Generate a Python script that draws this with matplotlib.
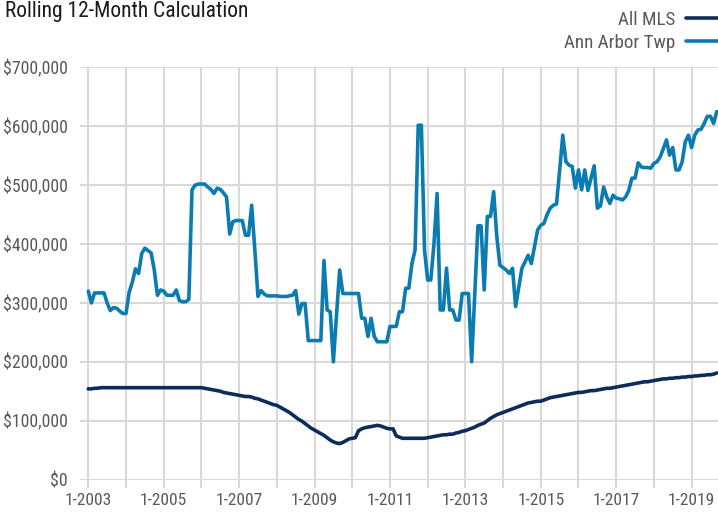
import matplotlib
matplotlib.use("Agg")
import matplotlib.pyplot as plt
from matplotlib import font_manager

# ---------------- data ----------------
start_year = 2003
tick_labels = ["1-2003", "", "1-2005", "", "1-2007", "", "1-2009", "", "1-2011", "",
               "1-2013", "", "1-2015", "", "1-2017", "", "1-2019"]
y_ticks = [0, 100000, 200000, 300000, 400000, 500000, 600000, 700000]
y_tick_labels = ["$0", "$100,000", "$200,000", "$300,000", "$400,000",
                 "$500,000", "$600,000", "$700,000"]
series_names = ["All MLS", "Ann Arbor Twp"]

# monthly values (thousands of dollars), Jan 2003 .. Sep 2019
ann_arbor_k = [
    320, 300, 317, 317, 317, 317, 300, 287, 292, 291, 286, 282,   # 2003
    282, 318, 335, 358, 350, 384, 393, 389, 385, 356, 313, 322,   # 2004
    320, 313, 313, 313, 322, 304, 302, 302, 306, 492, 500, 502,   # 2005
    502, 502, 497, 493, 486, 495, 493, 487, 480, 417, 438, 440,   # 2006
    440, 440, 415, 415, 466, 390, 311, 321, 315, 312, 312, 312,   # 2007
    312, 311, 311, 311, 312, 313, 321, 281, 299, 299, 236, 236,   # 2008
    236, 236, 236, 372, 288, 285, 200, 280, 356, 316, 316, 316,   # 2009
    316, 316, 316, 274, 274, 243, 274, 243, 234, 234, 234, 234,   # 2010
    260, 260, 260, 285, 285, 325, 325, 367, 390, 602, 602, 390,   # 2011
    339, 339, 400, 486, 288, 288, 359, 288, 288, 271, 271, 316,   # 2012
    316, 316, 200, 315, 431, 431, 322, 447, 447, 489, 413, 364,   # 2013
    360, 356, 350, 359, 294, 326, 359, 370, 381, 367, 395, 424,   # 2014
    432, 435, 450, 461, 466, 468, 525, 585, 540, 534, 532, 495,   # 2015
    526, 492, 526, 491, 512, 533, 461, 465, 497, 480, 469, 483,   # 2016
    478, 477, 475, 480, 491, 512, 512, 538, 531, 530, 530, 529,   # 2017
    537, 540, 548, 562, 577, 551, 564, 526, 526, 540, 574, 585,   # 2018
    564, 585, 594, 595, 605, 617, 617, 605, 625,                  # 2019
]
all_mls_k = [
    154, 154, 155, 155, 156, 156, 156, 156, 156, 156, 156, 156,   # 2003
    156, 156, 156, 156, 156, 156, 156, 156, 156, 156, 156, 156,   # 2004
    156, 156, 156, 156, 156, 156, 156, 156, 156, 156, 156, 156,   # 2005
    156, 155, 154, 153, 152, 151, 150, 148, 147, 146, 145, 144,   # 2006
    143, 142, 141, 141, 140, 138, 137, 135, 133, 131, 129, 127,   # 2007
    126, 123, 120, 117, 114, 110, 106, 102, 99, 95, 91, 87,       # 2008
    84, 81, 78, 75, 71, 67, 64, 62, 61, 63, 66, 69,               # 2009
    70, 71, 83, 86, 88, 89, 90, 91, 92, 91, 89, 87,               # 2010
    86, 86, 74, 72, 70, 70, 70, 70, 70, 70, 70, 70,               # 2011
    71, 72, 73, 74, 75, 76, 76, 77, 77, 79, 80, 82,               # 2012
    83, 85, 87, 89, 92, 94, 96, 100, 104, 107, 110, 112,          # 2013
    114, 116, 118, 120, 122, 124, 126, 128, 130, 131, 132, 133,   # 2014
    133, 135, 137, 139, 140, 141, 142, 143, 144, 145, 146, 147,   # 2015
    148, 148, 149, 150, 151, 151, 152, 153, 154, 155, 155, 156,   # 2016
    157, 158, 159, 160, 161, 162, 163, 164, 165, 166, 166, 167,   # 2017
    168, 169, 170, 171, 171, 172, 172, 173, 173, 174, 174, 175,   # 2018
    175, 176, 176, 177, 177, 178, 178, 179, 181,                  # 2019
]

ann_arbor = [v * 1000 for v in ann_arbor_k]
all_mls = [v * 1000 for v in all_mls_k]
months = list(range(len(ann_arbor)))

# ---------------- style ----------------
avail = {f.name for f in font_manager.fontManager.ttflist}
fam = [f for f in ["Roboto Condensed", "Liberation Sans Narrow", "DejaVu Sans"] if f in avail]
plt.rcParams["font.family"] = fam
plt.rcParams["font.stretch"] = "condensed"

c_mls = "#0c2d5c"
c_aa = "#0a7cb2"
grid_c = "#d9d9d9"
txt_c = "#595959"

W, H = 718, 515
fig = plt.figure(figsize=(W / 100, H / 100), dpi=100)
ax = fig.add_axes([80 / W, 1 - 479.5 / H, (718 - 80) / W, (479.5 - 67.5) / H])

ln_mls, = ax.plot(months, all_mls, color=c_mls, lw=2.6, solid_joinstyle="round",
                  solid_capstyle="round", zorder=3, label=series_names[0])
ln_aa, = ax.plot(months, ann_arbor, color=c_aa, lw=2.6, solid_joinstyle="round",
                 solid_capstyle="round", zorder=3, label=series_names[1])

ax.set_xlim(-2.64, 200.4)
ax.set_ylim(0, 700000)

ax.set_xticks(list(range(0, 12 * (len(tick_labels) - 1) + 1, 12)))
ax.set_xticklabels(tick_labels)
ax.set_yticks(y_ticks)
ax.set_yticklabels(y_tick_labels)

for s in ax.spines.values():
    s.set_visible(False)
ax.grid(True, color=grid_c, lw=1.5, zorder=0)
ax.set_axisbelow(True)
ax.tick_params(axis="y", length=0, pad=9, labelsize=12.8, labelcolor=txt_c)
ax.tick_params(axis="x", length=5.5, width=1.5, color=grid_c, pad=4,
               labelsize=12.5, labelcolor=txt_c)

fig.text(5 / W, 1 - 12 / H, "Rolling 12-Month Calculation", fontsize=15.5,
         color="#1a1a1a", ha="left", va="center")

leg = fig.legend(handles=[ln_mls, ln_aa], loc="upper right",
                 bbox_to_anchor=(1.0, 1 - 11 / H), frameon=False, markerfirst=False,
                 fontsize=13.7, handlelength=1.7, handletextpad=0.55,
                 labelspacing=0.27, borderaxespad=0.0, borderpad=0.0)
for t in leg.get_texts():
    t.set_color(txt_c)

fig.savefig("out.png", dpi=100)
